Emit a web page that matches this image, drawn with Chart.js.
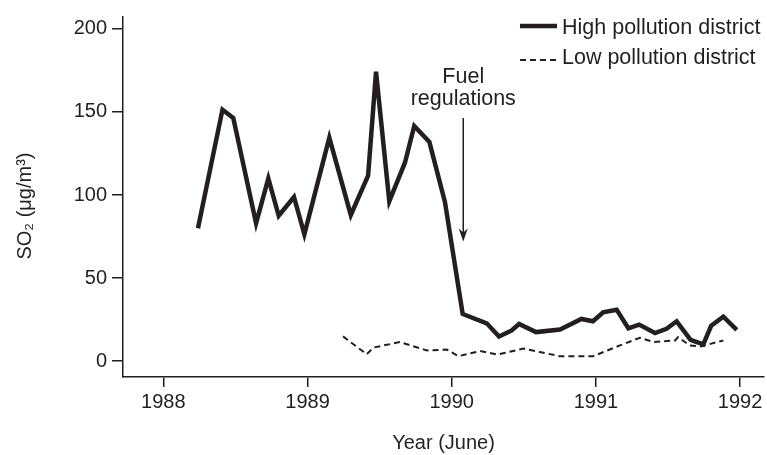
<!DOCTYPE html>
<html>
<head>
<meta charset="utf-8">
<script src="https://cdn.jsdelivr.net/npm/chart.js@4.4.0/dist/chart.umd.min.js"></script>
<style>
  body { margin: 0; background: #fff; }
  canvas { display: block; }
</style>
</head>
<body>
<canvas id="myChart" width="767" height="455"></canvas>
<script>
// values (year as decimal, SO2 in ug/m3)
const highYears = [1988.24, 1988.41, 1988.485, 1988.643, 1988.728, 1988.80, 1988.906, 1988.978,
  1989.151, 1989.30, 1989.42, 1989.475, 1989.567, 1989.676, 1989.74, 1989.845, 1989.953,
  1990.076, 1990.243, 1990.328, 1990.416, 1990.467, 1990.585, 1990.751, 1990.90, 1990.98,
  1991.05, 1991.144, 1991.225, 1991.30, 1991.41, 1991.49, 1991.56, 1991.657, 1991.745,
  1991.80, 1991.884, 1991.977]
const highValues = [80, 151.4, 146.4, 83, 110, 87.5, 98.8, 76.4,
  134.5, 88, 111.7, 174.2, 96.2, 119.6, 141.5, 132, 95.8,
  28.4, 22.8, 14.9, 18.5, 22.4, 17.5, 19, 25.4, 24,
  29.4, 31, 19.8, 22, 16.9, 19.5, 24, 12.9, 10.1,
  21.4, 26.8, 18.9]

const lowYears = [1989.246, 1989.41, 1989.458, 1989.64, 1989.827, 1989.965, 1990.046, 1990.196,
  1990.32, 1990.496, 1990.61, 1990.75, 1990.98, 1991.167, 1991.305, 1991.40, 1991.55,
  1991.57, 1991.65, 1991.73, 1991.884]
const lowValues = [14.9, 4.2, 8.2, 11.5, 6.5, 7, 3, 6.1,
  4, 7.6, 5.5, 3, 3, 9.5, 14.1, 11.5, 12.5,
  14.5, 9.5, 8.9, 12.5]

const xTicks = [1988, 1989, 1990, 1991, 1992]
const yTicks = [0, 50, 100, 150, 200]
const seriesNames = ['High pollution district', 'Low pollution district']
const yTitle = 'SO₂ (μg/m³)'
const arrowLabel = ['Fuel', 'regulations']
const arrowYear = 1990.08
const arrowFrom = 146.4
const arrowTo = 72

const ink = '#231f20'
const fontFamily = '"Liberation Sans", Arial, Helvetica, sans-serif'

function toPoints(xs, ys) {
  return xs.map((x, i) => ({ x: x, y: ys[i] }))
}

// legend, y title and the "Fuel regulations" arrow
const extras = {
  id: 'extras',
  afterDatasetsDraw(chart) {
    const ctx = chart.ctx
    const xs = chart.scales.x
    const ys = chart.scales.y
    ctx.save()
    ctx.fillStyle = ink
    ctx.strokeStyle = ink
    ctx.textBaseline = 'middle'

    // y title, rotated
    ctx.save()
    ctx.font = '20px ' + fontFamily
    ctx.translate(25, 206)
    ctx.rotate(-Math.PI / 2)
    ctx.textAlign = 'center'
    ctx.fillText(yTitle, 0, 0)
    ctx.restore()

    ctx.font = '21.5px ' + fontFamily

    // legend
    ctx.lineWidth = 4.5
    ctx.setLineDash([])
    ctx.beginPath()
    ctx.moveTo(520, 26)
    ctx.lineTo(557, 26)
    ctx.stroke()
    ctx.textAlign = 'left'
    ctx.fillText(seriesNames[0], 562, 28)

    ctx.lineWidth = 2
    ctx.setLineDash([6, 4])
    ctx.beginPath()
    ctx.moveTo(520, 60)
    ctx.lineTo(557, 60)
    ctx.stroke()
    ctx.setLineDash([])
    ctx.fillText(seriesNames[1], 562, 58)

    // arrow
    const ax = xs.getPixelForValue(arrowYear)
    const top = ys.getPixelForValue(arrowFrom)
    const tip = ys.getPixelForValue(arrowTo)
    ctx.lineWidth = 1.5
    ctx.beginPath()
    ctx.moveTo(ax, top)
    ctx.lineTo(ax, tip - 8)
    ctx.stroke()
    ctx.beginPath()
    ctx.moveTo(ax, tip)
    ctx.lineTo(ax - 4.5, tip - 13)
    ctx.lineTo(ax, tip - 9)
    ctx.lineTo(ax + 4.5, tip - 13)
    ctx.closePath()
    ctx.fill()

    ctx.textAlign = 'center'
    ctx.fillText(arrowLabel[0], ax, top - 41)
    ctx.fillText(arrowLabel[1], ax, top - 19)
    ctx.restore()
  }
}

const chart = new Chart(document.getElementById('myChart'), {
  type: 'line',
  data: {
    datasets: [
      {
        label: seriesNames[0],
        data: toPoints(highYears, highValues),
        borderColor: ink,
        borderWidth: 4.5,
        borderJoinStyle: 'miter',
        pointRadius: 0,
        tension: 0,
        fill: false
      },
      {
        label: seriesNames[1],
        data: toPoints(lowYears, lowValues),
        borderColor: ink,
        borderWidth: 2,
        borderDash: [6, 4],
        pointRadius: 0,
        tension: 0,
        fill: false
      }
    ]
  },
  options: {
    responsive: false,
    animation: false,
    devicePixelRatio: 1,
    layout: { padding: { left: 0, right: 3, top: 13, bottom: 0 } },
    plugins: {
      legend: { display: false },
      tooltip: { enabled: false }
    },
    scales: {
      x: {
        type: 'linear',
        min: 1987.72,
        max: 1992.166,
        afterBuildTicks: (s) => { s.ticks = xTicks.map(v => ({ value: v })) },
        afterFit: (s) => { s.height = 78 },
        grid: { display: true, drawOnChartArea: false, drawTicks: true, tickLength: 10, color: ink, lineWidth: 1.5 },
        border: { display: true, color: ink, width: 1.5 },
        ticks: { color: ink, font: { family: fontFamily, size: 20 }, padding: 3, maxRotation: 0, callback: (v) => String(v) },
        title: { display: true, text: 'Year (June)', color: ink, font: { family: fontFamily, size: 20 }, padding: { top: 0, bottom: 0 } }
      },
      y: {
        type: 'linear',
        min: -9.52,
        max: 207.14,
        afterBuildTicks: (s) => { s.ticks = yTicks.map(v => ({ value: v })) },
        afterFit: (s) => { s.width = 123 },
        grid: { display: true, drawOnChartArea: false, drawTicks: true, tickLength: 11, color: ink, lineWidth: 1.5 },
        border: { display: true, color: ink, width: 1.5 },
        ticks: { color: ink, font: { family: fontFamily, size: 20 }, padding: 5 },
        title: { display: false }
      }
    }
  },
  plugins: [extras]
})
</script>
</body>
</html>
